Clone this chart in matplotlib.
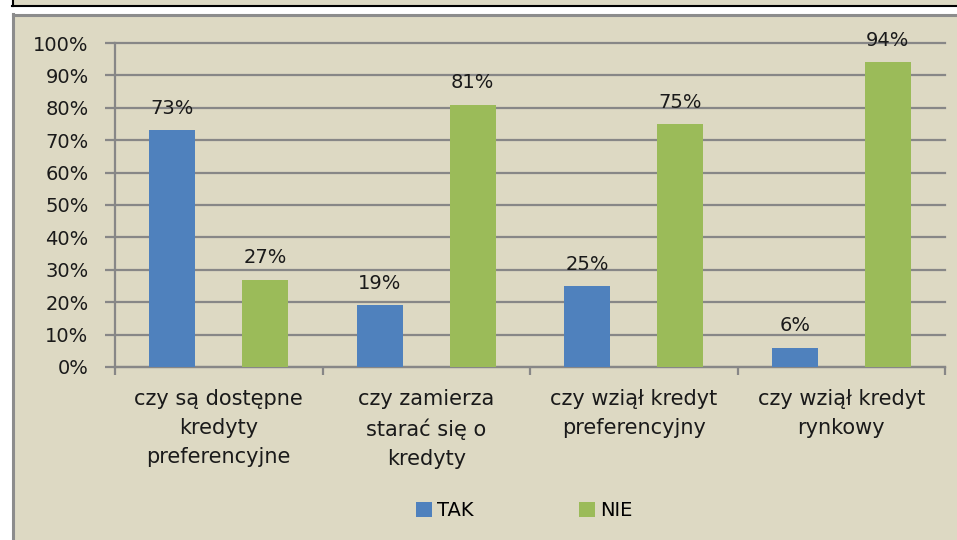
import matplotlib
matplotlib.use("Agg")
import matplotlib.pyplot as plt
from matplotlib.patches import Rectangle
from matplotlib.lines import Line2D
import numpy as np

categories = [
    "czy są dostępne\nkredyty\npreferencyjne",
    "czy zamierza\nstarać się o\nkredyty",
    "czy wziął kredyt\npreferencyjny",
    "czy wziął kredyt\nrynkowy",
]
tak = [73, 19, 25, 6]
nie = [27, 81, 75, 94]
series_names = ["TAK", "NIE"]

BG = "#DDD9C3"
BLUE = "#4F81BD"
GREEN = "#9BBB59"
GRID = "#878787"
W, H = 957, 540

plt.rcParams["font.family"] = ["DejaVu Sans"]
fig = plt.figure(figsize=(W / 100, H / 100), dpi=100, facecolor="white")

# background frames (figure coords)
fig.patches.append(Rectangle((12 / W, 0), 1, (H - 14) / H, transform=fig.transFigure,
                             facecolor=BG, edgecolor="none", zorder=-5))
fig.patches.append(Rectangle((12 / W, (H - 6) / H), 1, 6 / H, transform=fig.transFigure,
                             facecolor=BG, edgecolor="none", zorder=-5))
fig.add_artist(Line2D([13 / W, 13 / W], [0, (H - 14) / H], transform=fig.transFigure,
                      color="#8C8C8C", lw=2.2, zorder=-4))
fig.add_artist(Line2D([13 / W, 1], [(H - 15) / H, (H - 15) / H], transform=fig.transFigure,
                      color="#8C8C8C", lw=2.2, zorder=-4))
fig.add_artist(Line2D([12 / W, 1], [(H - 6) / H, (H - 6) / H], transform=fig.transFigure,
                      color="black", lw=1.5, zorder=-4))
fig.add_artist(Line2D([12.5 / W, 12.5 / W], [(H - 6) / H, 1], transform=fig.transFigure,
                      color="black", lw=1.5, zorder=-4))

ax = fig.add_axes([115 / W, (H - 367) / H, (945 - 115) / W, (367 - 43) / H])
ax.set_facecolor("none")
ax.set_zorder(2)

x = np.arange(len(categories))
off = 0.224
bw = 0.222
b1 = ax.bar(x - off, tak, bw, color=BLUE, label=series_names[0], zorder=3)
b2 = ax.bar(x + off, nie, bw, color=GREEN, label=series_names[1], zorder=3)

for bars, vals in ((b1, tak), (b2, nie)):
    for rect, v in zip(bars, vals):
        ax.annotate(f"{v}%", (rect.get_x() + rect.get_width() / 2, rect.get_height()),
                    xytext=(0, 9), textcoords="offset points", ha="center", va="bottom",
                    fontsize=14, color="#1a1a1a", zorder=4)

ax.set_xlim(-0.5, len(categories) - 0.5)
ax.set_ylim(0, 100)
ax.set_yticks(np.arange(0, 101, 10))
ax.set_yticklabels([f"{v}%" for v in range(0, 101, 10)], fontsize=14, color="#1a1a1a")
ax.yaxis.grid(True, color=GRID, lw=1.6, zorder=1)
for gl in ax.yaxis.get_gridlines():
    gl.set_clip_on(False)
ax.set_axisbelow(True)

ax.set_xticks(x)
ax.set_xticklabels(categories, fontsize=15, color="#1a1a1a", linespacing=1.55)
ax.set_xticks(np.arange(-0.5, len(categories), 1), minor=True)
ax.tick_params(axis="x", which="major", length=0, pad=16)
ax.tick_params(axis="x", which="minor", length=6, width=1.6, color=GRID)
ax.tick_params(axis="y", length=7, width=1.6, color=GRID, pad=12)

for s in ("top", "right"):
    ax.spines[s].set_visible(False)
for s in ("left", "bottom"):
    ax.spines[s].set_color(GRID)
    ax.spines[s].set_linewidth(1.6)

fig.legend(handles=[b1, b2], loc="center", bbox_to_anchor=(0.548, (H - 511) / H),
           ncol=2, frameon=False, fontsize=14, handlelength=0.8, handleheight=0.8,
           handletextpad=0.3, columnspacing=5.4)

fig.savefig("out.png", dpi=100, facecolor="white")
